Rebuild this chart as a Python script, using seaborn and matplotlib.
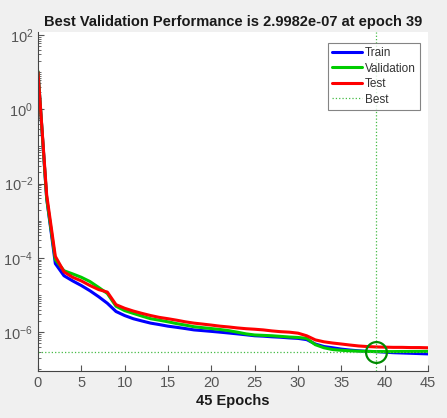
import numpy as np
import pandas as pd
import matplotlib
matplotlib.use("Agg")
import matplotlib.pyplot as plt
import matplotlib.ticker as mticker
from matplotlib.lines import Line2D
import seaborn as sns

# values (mean squared error per epoch)
epochs = list(range(46))
train = [10, 4e-3, 7e-5, 3.3e-5, 2.4e-5, 1.8e-5, 1.3e-5, 9e-6, 6e-6, 3.6e-6,
         2.8e-6, 2.3e-6, 2.0e-6, 1.75e-6, 1.6e-6, 1.45e-6, 1.35e-6, 1.25e-6, 1.15e-6, 1.1e-6,
         1.05e-6, 1.0e-6, 9.5e-7, 9.0e-7, 8.5e-7, 8.0e-7, 7.8e-7, 7.5e-7, 7.3e-7, 7.0e-7,
         6.8e-7, 6.3e-7, 4.8e-7, 4.1e-7, 3.8e-7, 3.5e-7, 3.3e-7, 3.15e-7, 3.05e-7, 3.0e-7,
         2.9e-7, 2.8e-7, 2.75e-7, 2.7e-7, 2.65e-7, 2.6e-7]
validation = [10.5, 4e-3, 9e-5, 4.5e-5, 3.7e-5, 3.0e-5, 2.3e-5, 1.6e-5, 1.1e-5, 5e-6,
              3.8e-6, 3.2e-6, 2.7e-6, 2.3e-6, 2.1e-6, 1.9e-6, 1.7e-6, 1.55e-6, 1.4e-6, 1.32e-6,
              1.25e-6, 1.18e-6, 1.1e-6, 1.0e-6, 9.0e-7, 8.4e-7, 8.2e-7, 8.0e-7, 7.7e-7, 7.4e-7,
              7.2e-7, 6.8e-7, 4.6e-7, 3.8e-7, 3.4e-7, 3.25e-7, 3.15e-7, 3.08e-7, 3.03e-7, 2.9982e-7,
              3.0e-7, 3.0e-7, 3.02e-7, 3.02e-7, 3.03e-7, 3.05e-7]
test = [10, 5e-3, 1.1e-4, 4.2e-5, 3.0e-5, 2.4e-5, 1.8e-5, 1.4e-5, 1.2e-5, 5.5e-6,
        4.4e-6, 3.7e-6, 3.2e-6, 2.8e-6, 2.5e-6, 2.3e-6, 2.1e-6, 1.9e-6, 1.75e-6, 1.65e-6,
        1.55e-6, 1.45e-6, 1.38e-6, 1.3e-6, 1.24e-6, 1.2e-6, 1.15e-6, 1.08e-6, 1.03e-6, 1.0e-6,
        9.4e-7, 8.0e-7, 6.2e-7, 5.5e-7, 5.1e-7, 4.8e-7, 4.5e-7, 4.25e-7, 4.1e-7, 4.0e-7,
        3.95e-7, 3.9e-7, 3.9e-7, 3.85e-7, 3.85e-7, 3.8e-7]
best_epoch = 39
best_perf = 2.9982e-07

df = pd.DataFrame({"Epoch": epochs, "Train": train, "Validation": validation, "Test": test})
long = df.melt(id_vars="Epoch", var_name="Set", value_name="MSE")

sns.set_style("ticks")
plt.rcParams['font.family'] = ['Liberation Sans', 'DejaVu Sans']

fig = plt.figure(figsize=(4.47, 4.18), dpi=100, facecolor="#f0f0f0")
ax = fig.add_axes([0.085, 0.1124, 0.8725, 0.811])
ax.set_facecolor("white")

palette = {"Train": "#0000ff", "Validation": "#00cc00", "Test": "#ff0000"}
sns.lineplot(data=long, x="Epoch", y="MSE", hue="Set", palette=palette,
             linewidth=2.2, ax=ax, legend=False)

ax.axhline(best_perf, color="#44bb44", linestyle=":", linewidth=0.9)
ax.axvline(best_epoch, color="#44bb44", linestyle=":", linewidth=0.9)
ax.plot([best_epoch], [best_perf], marker="o", markersize=15, markerfacecolor="none",
        markeredgecolor="#008a00", markeredgewidth=1.6)

ax.set_yscale("log")
ax.set_xlim(0, 45)
ax.set_ylim(9e-8, 120)
ax.set_xticks(range(0, 46, 5))
ax.yaxis.set_major_locator(mticker.FixedLocator([1e-6, 1e-4, 1e-2, 1e0, 1e2]))
ax.yaxis.set_minor_locator(mticker.FixedLocator(
    [m * 10.0 ** e for e in range(-8, 2) for m in range(1, 10) if 9e-8 <= m * 10.0 ** e <= 120]))
ax.yaxis.set_minor_formatter(mticker.NullFormatter())
ax.tick_params(direction="in", colors="#555555", labelsize=10.5, length=4)
ax.tick_params(which="minor", direction="in", length=2, colors="#555555")

for s in ["top", "right"]:
    ax.spines[s].set_visible(False)
for s in ["left", "bottom"]:
    ax.spines[s].set_color("#444444")
    ax.spines[s].set_linewidth(0.8)

ax.set_title("Best Validation Performance is 2.9982e-07 at epoch 39",
             fontsize=10.5, fontweight="bold", color="#1a1a1a", pad=4)
ax.set_xlabel("45 Epochs", fontsize=10.5, fontweight="bold", color="#1a1a1a", labelpad=3)
ax.set_ylabel("")

handles = [Line2D([], [], color="#0000ff", lw=2.2),
           Line2D([], [], color="#00cc00", lw=2.2),
           Line2D([], [], color="#ff0000", lw=2.2),
           Line2D([], [], color="#44bb44", lw=0.9, ls=":")]
leg = ax.legend(handles, ["Train", "Validation", "Test", "Best"], loc="upper right",
                bbox_to_anchor=(0.985, 0.975), fontsize=8.5, frameon=True, fancybox=False,
                handlelength=2.6, handletextpad=0.2, borderpad=0.35, labelspacing=0.3,
                borderaxespad=0.2)
leg.get_frame().set_edgecolor("#666666")
leg.get_frame().set_linewidth(0.8)
for t in leg.get_texts():
    t.set_color("#333333")

fig.savefig("out.png", dpi=100, facecolor=fig.get_facecolor())
